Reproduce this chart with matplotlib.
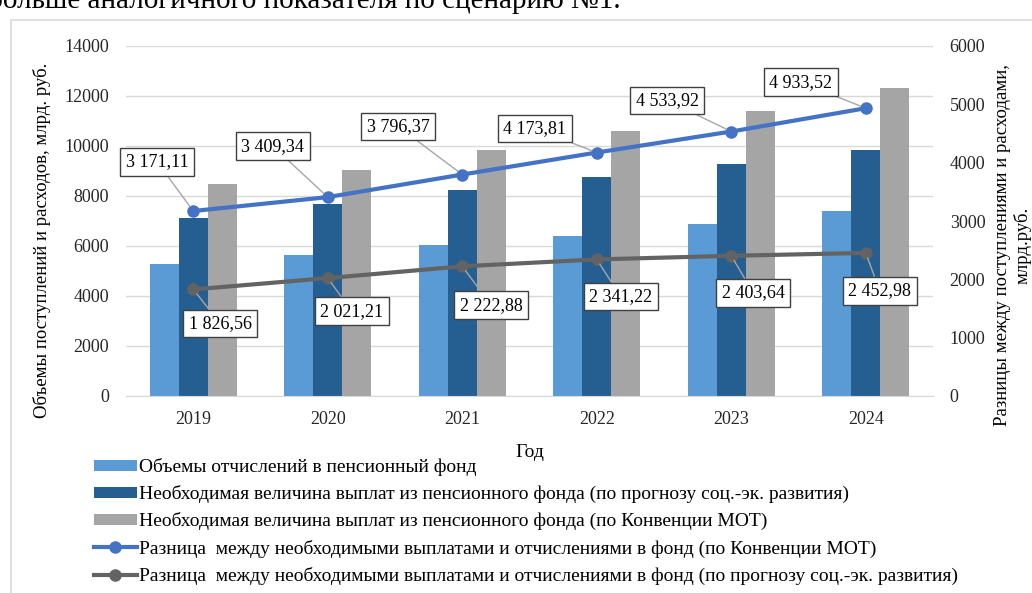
import numpy as np
import matplotlib.pyplot as plt
from matplotlib.patches import Rectangle

plt.rcParams['font.family'] = ['Liberation Serif', 'DejaVu Serif']

years = ['2019', '2020', '2021', '2022', '2023', '2024']
# столбцы, млрд. руб. (левая ось)
otchisleniya = [5300, 5650, 6030, 6420, 6870, 7400]
vyplaty_prognoz = [7127, 7671, 8253, 8761, 9274, 9853]
vyplaty_mot = [8471, 9059, 9826, 10594, 11404, 12334]
# линии, млрд. руб. (правая ось)
raznica_mot = [3171.11, 3409.34, 3796.37, 4173.81, 4533.92, 4933.52]
raznica_prognoz = [1826.56, 2021.21, 2222.88, 2341.22, 2403.64, 2452.98]

labels_mot = ['3 171,11', '3 409,34', '3 796,37', '4 173,81', '4 533,92', '4 933,52']
labels_prognoz = ['1 826,56', '2 021,21', '2 222,88', '2 341,22', '2 403,64', '2 452,98']

c_light = '#5B9BD5'
c_dark = '#255E91'
c_grey = '#A5A5A5'
c_line1 = '#4472C4'
c_line2 = '#636363'

fig = plt.figure(figsize=(10.32, 5.93), dpi=100)
ax = fig.add_axes([126 / 1032, 1 - 396 / 593, (933 - 126) / 1032, 350 / 593])
ax2 = ax.twinx()

x = np.arange(len(years))
w = 0.215
ax.bar(x - w, otchisleniya, w, color=c_light, label='Объемы отчислений в пенсионный фонд')
ax.bar(x, vyplaty_prognoz, w, color=c_dark,
       label='Необходимая величина выплат из пенсионного фонда (по прогнозу соц.-эк. развития)')
ax.bar(x + w, vyplaty_mot, w, color=c_grey,
       label='Необходимая величина выплат из пенсионного фонда (по Конвенции МОТ)')

ax2.plot(x, raznica_mot, color=c_line1, lw=3, marker='o', ms=8,
         label='Разница  между необходимыми выплатами и отчислениями в фонд (по Конвенции МОТ)')
ax2.plot(x, raznica_prognoz, color=c_line2, lw=3, marker='o', ms=8,
         label='Разница  между необходимыми выплатами и отчислениями в фонд (по прогнозу соц.-эк. развития)')

ax.set_xlim(-0.5, 5.5)
ax.set_ylim(0, 14000)
ax2.set_ylim(0, 6000)
ax.set_yticks(range(0, 14001, 2000))
ax2.set_yticks(range(0, 6001, 1000))
ax.set_xticks(x)
ax.set_xticklabels(years)
ax.grid(axis='y', color='#d9d9d9', lw=1)
ax.set_axisbelow(True)
for a in (ax, ax2):
    for s in a.spines.values():
        s.set_visible(False)
    a.tick_params(length=0, labelsize=13, colors='#262626')
ax.spines['bottom'].set_visible(True)
ax.spines['bottom'].set_color('#d9d9d9')
ax.tick_params(axis='y', pad=12)
ax.tick_params(axis='x', pad=11)
ax2.tick_params(axis='y', pad=12)

ax.set_xlabel('Год', fontsize=14, labelpad=11)
fig.text(42 / 1032, 1 - 240 / 593, 'Объемы поступлений и расходов, млрд. руб.',
         rotation=90, ha='center', va='center', fontsize=13.5)
fig.text(1013 / 1032, 1 - 245 / 593, 'Разницы между поступлениями и расходами,\nмлрд.руб.',
         rotation=90, ha='center', va='center', fontsize=13.5, linespacing=1.2)

# подписи данных
off_mot = [(-36, 49), (-55, 51), (-64, 48), (-62, 24), (-64, 31), (-65, 26)]
off_prog = [(27, -34), (24, -33), (29, -39), (24, -37), (22, -37), (14, -38)]
box = dict(boxstyle='square,pad=0.3', fc='white', ec='#404040', lw=1)
arr = dict(arrowstyle='-', color='#a6a6a6', lw=1, shrinkA=0, shrinkB=4)
for i in range(len(years)):
    ax2.annotate(labels_mot[i], (x[i], raznica_mot[i]), xytext=off_mot[i],
                 textcoords='offset pixels', ha='center', va='center', fontsize=13,
                 bbox=box, arrowprops=arr, zorder=5)
    ax2.annotate(labels_prognoz[i], (x[i], raznica_prognoz[i]), xytext=off_prog[i],
                 textcoords='offset pixels', ha='center', va='center', fontsize=13,
                 bbox=box, arrowprops=arr, zorder=5)

h1, l1 = ax.get_legend_handles_labels()
h2, l2 = ax2.get_legend_handles_labels()
fig.legend(h1 + h2, l1 + l2, loc='upper left', bbox_to_anchor=(94 / 1032, 1 - 458 / 593),
           frameon=False, fontsize=14, handlelength=2.2, handleheight=0.5, handletextpad=0.1,
           labelspacing=0.47, borderaxespad=0, borderpad=0)

# рамка диаграммы и обрезанный текст документа сверху
fig.patches.append(Rectangle((11 / 1032, -0.01), 1.1, 1 - 20 / 593 + 0.01,
                             transform=fig.transFigure, fill=False, ec='#d9d9d9', lw=1.2))
fig.text(-0.012, 1 - 8 / 593, 'больше аналогичного показателя по сценарию №1.',
         fontsize=21, va='baseline', ha='left')

fig.savefig('out.png', dpi=100)
